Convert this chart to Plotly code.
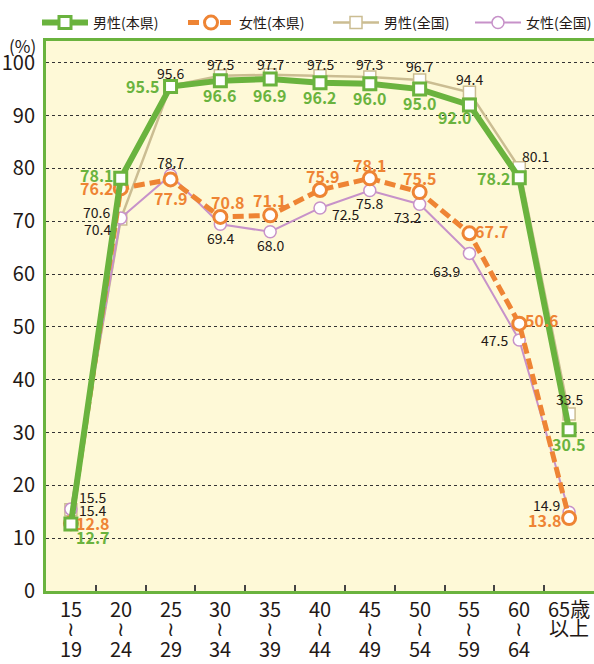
import plotly.graph_objects as go

categories = ["15-19", "20-24", "25-29", "30-34", "35-39", "40-44",
              "45-49", "50-54", "55-59", "60-64", "65+"]
tick_top = ["15", "20", "25", "30", "35", "40", "45", "50", "55", "60", "65歳"]
tick_mid = ["≀", "≀", "≀", "≀", "≀", "≀", "≀", "≀", "≀", "≀", "以上"]
tick_bot = ["19", "24", "29", "34", "39", "44", "49", "54", "59", "64", ""]

male_pref = [12.7, 78.1, 95.5, 96.6, 96.9, 96.2, 96.0, 95.0, 92.0, 78.2, 30.5]
female_pref = [12.8, 76.2, 77.9, 70.8, 71.1, 75.9, 78.1, 75.5, 67.7, 50.6, 13.8]
male_nat = [15.4, 70.4, 95.6, 97.5, 97.7, 97.5, 97.3, 96.7, 94.4, 80.1, 33.5]
female_nat = [15.5, 70.6, 78.7, 69.4, 68.0, 72.5, 75.8, 73.2, 63.9, 47.5, 14.9]

# label offsets in pixels (dx right, dy down)
green_dx = [22, -24, -28, 0, 0, 0, 0, 0, -14, -25, 0]
green_dy = [13, -3, 0, 14, 16, 14, 14, 14, 12, 0, 14]
orange_dx = [22, -24, 0, 8, 0, 3, 0, 0, 23, 23, -24]
orange_dy = [0, 0, 19, -15, -15, -14, -13, -14, -2, -4, 2]
tan_dx = [22, -23, 0, 0, 0, 0, 0, 0, 0, 16, 0]
tan_dy = [0, 10, -13, -12, -11, -12, -13, -14, -13, -12, -15]
purple_dx = [22, -24, 0, 0, 0, 25, 0, -12, -23, -25, -23]
purple_dy = [-12, -6, -13, 14, 13, 6, 12, 13, 18, 0, -7]

GREEN = "#6AB33E"
ORANGE = "#EE8434"
TAN = "#CBBD92"
PURPLE = "#C792C9"
BG = "#FEF9D7"
TXT = "#231815"
FONT = "Noto Sans CJK JP"
W, H = 594, 664
ML, MR, MT, MB = 46, 0, 41, 73
PW, PH = W - ML - MR, H - MT - MB

fig = go.Figure()
fig.add_trace(go.Scatter(
    x=categories, y=male_nat, name="男性(全国)", mode="lines+markers",
    line=dict(color=TAN, width=2.5),
    marker=dict(symbol="square", size=12, color="white", line=dict(color=TAN, width=1.5)),
    legend="legend3"))
fig.add_trace(go.Scatter(
    x=categories, y=female_nat, name="女性(全国)", mode="lines+markers",
    line=dict(color=PURPLE, width=2),
    marker=dict(symbol="circle", size=12, color="white", line=dict(color=PURPLE, width=1.5)),
    legend="legend4"))
fig.add_trace(go.Scatter(
    x=categories, y=female_pref, name="女性(本県)", mode="lines+markers",
    line=dict(color=ORANGE, width=5, dash="11px,5px"),
    marker=dict(symbol="circle", size=13, color="white", line=dict(color=ORANGE, width=3)),
    legend="legend2"))
fig.add_trace(go.Scatter(
    x=categories, y=male_pref, name="男性(本県)", mode="lines+markers",
    line=dict(color=GREEN, width=6),
    marker=dict(symbol="square", size=12, color="white", line=dict(color=GREEN, width=3)),
    legend="legend"))

annotations = []

def add_labels(vals, dxs, dys, color, size, bold):
    for c, v, dx, dy in zip(categories, vals, dxs, dys):
        t = f"{v:.1f}"
        if bold:
            t = f"<b>{t}</b>"
        annotations.append(dict(
            x=c, y=v, xref="x", yref="y", text=t, showarrow=False,
            xshift=dx, yshift=-dy,
            font=dict(family=FONT, size=size, color=color)))

add_labels(male_nat, tan_dx, tan_dy, TXT, 14, False)
add_labels(female_nat, purple_dx, purple_dy, TXT, 14, False)
add_labels(female_pref, orange_dx, orange_dy, ORANGE, 16, True)
add_labels(male_pref, green_dx, green_dy, GREEN, 16, True)

# x tick labels (three rows)
for c, a, b, d in zip(categories, tick_top, tick_mid, tick_bot):
    for txt, yoff in ((a, -17), (b, -36), (d, -57)):
        if txt:
            annotations.append(dict(
                x=c, y=0, xref="x", yref="y", text=txt, showarrow=False,
                yshift=yoff, font=dict(family=FONT, size=20, color=TXT)))

annotations.append(dict(
    x=(22 - ML) / PW, y=(H - MB - 45) / PH, xref="paper", yref="paper", text="(%)",
    showarrow=False, xanchor="center", yanchor="middle",
    font=dict(family=FONT, size=17, color=TXT)))

def leg(xpx):
    return dict(orientation="h", xref="container", yref="container",
                x=xpx / W, xanchor="left", y=1 - 7 / H, yanchor="top",
                itemwidth=46,
                font=dict(family=FONT, size=14, color=TXT),
                bgcolor="rgba(0,0,0,0)")

fig.update_layout(
    width=W, height=H,
    margin=dict(l=ML, r=MR, t=MT, b=MB, autoexpand=False),
    paper_bgcolor="white", plot_bgcolor=BG,
    font=dict(family=FONT, color=TXT),
    showlegend=True,
    legend=leg(37), legend2=leg(183), legend3=leg(328), legend4=leg(470),
    annotations=annotations,
)

fig.update_xaxes(
    type="category", range=[-0.5, 10.5], showticklabels=False, automargin=False,
    showline=True, linecolor=GREEN, linewidth=3, mirror=True,
    ticks="inside", tickson="boundaries", ticklen=6, tickcolor="#444", tickwidth=1.5,
    showgrid=False, zeroline=False, fixedrange=True)
fig.update_yaxes(
    range=[0, 104.1], tickvals=list(range(0, 101, 10)), automargin=False,
    showline=True, linecolor=GREEN, linewidth=3,
    showgrid=True, gridcolor="#333333", gridwidth=1, griddash="3px,3px",
    zeroline=False, ticks="", ticklabelstandoff=4,
    tickfont=dict(family=FONT, size=20, color=TXT), fixedrange=True)

fig.write_html("out.html", config={"displayModeBar": False},
               post_script="document.body.style.margin='0';document.body.style.padding='0';")
